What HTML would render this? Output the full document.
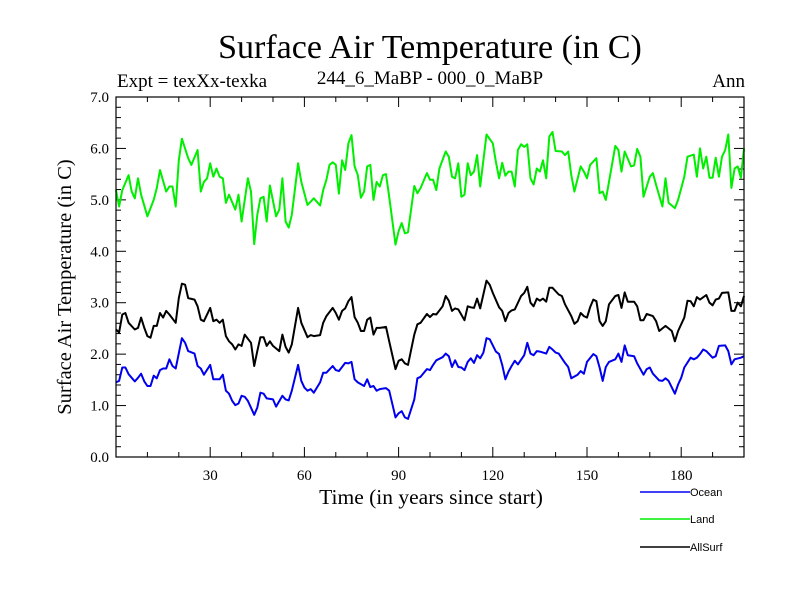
<!DOCTYPE html>
<html><head><meta charset="utf-8"><style>
body{margin:0;background:#fff;width:800px;height:600px;overflow:hidden}
svg{display:block}
.s{font-family:"Liberation Serif",serif}
</style></head><body>
<svg id="chart" width="800" height="600" xmlns="http://www.w3.org/2000/svg">
<text class="s" x="430" y="58" font-size="34" text-anchor="middle">Surface Air Temperature (in C)</text>
<text class="s" x="117" y="87" font-size="19">Expt = texXx-texka</text>
<text class="s" x="430" y="84" font-size="19" text-anchor="middle">244_6_MaBP - 000_0_MaBP</text>
<text class="s" x="745" y="87" font-size="19" text-anchor="end">Ann</text>
<text class="s" x="0" y="0" font-size="20.5" text-anchor="middle" transform="translate(71,287) rotate(-90)">Surface Air Temperature (in C)</text>
<text class="s" x="431" y="504" font-size="21.5" text-anchor="middle">Time (in years since start)</text>
<g id="ticks"></g>
<g id="series"></g>
<rect x="116" y="97" width="628" height="360" fill="none" stroke="#000" stroke-width="1.2"/>
<g id="legend"></g>
</svg>
<script>
const yTicks=[0,1,2,3,4,5,6,7];
const yTickLabels=["0.0","1.0","2.0","3.0","4.0","5.0","6.0","7.0"];
const xTicks=[30,60,90,120,150,180];
const landYears=[0,1,2,4,5,6,7,8,10,12,13,14,16,17,18,19,20,21,23,24,26,27,28,29,30,31,32,33,34,35,36,38,39,40,42,43,44,45,46,47,48,49,51,52,53,54,55,56,58,59,61,63,65,66,67,68,69,70,71,72,73,74,75,76,77,78,79,80,81,82,83,84,85,86,87,89,90,91,92,93,95,96,97,99,100,101,102,103,105,106,107,108,109,110,111,112,113,114,115,116,118,120,121,122,123,124,125,126,127,128,129,130,131,132,133,134,135,136,137,138,139,140,142,143,144,145,146,148,149,150,151,153,154,155,156,159,160,161,162,164,165,166,167,168,170,171,172,174,175,176,178,179,181,182,184,185,186,187,188,189,190,191,192,193,194,195,196,197,198,199,200];
const landVals=[5.19,4.87,5.19,5.48,5.16,5.03,5.42,5.10,4.68,5.0,5.23,5.58,5.16,5.26,5.26,4.87,5.77,6.19,5.81,5.68,5.97,5.16,5.35,5.42,5.71,5.45,5.61,5.45,5.42,4.94,5.10,4.81,5.10,4.58,5.42,5.16,4.14,4.71,5.03,5.06,4.58,5.28,4.68,4.81,5.42,4.58,4.46,4.71,5.71,5.35,4.90,5.03,4.89,5.19,5.39,5.68,5.73,5.68,5.12,5.77,5.58,6.10,6.26,5.65,5.48,5.04,5.16,5.65,5.68,5.0,5.35,5.26,5.48,5.50,5.06,4.13,4.39,4.55,4.35,4.37,5.27,5.13,5.23,5.52,5.39,5.39,5.19,5.61,5.94,5.84,5.45,5.42,5.71,5.06,5.10,5.71,5.48,5.55,5.87,5.26,6.27,6.10,5.74,5.42,5.72,5.47,5.55,5.55,5.26,5.97,6.08,6.03,6.08,5.42,5.30,5.61,5.55,5.77,5.42,6.23,6.32,5.95,5.94,5.87,5.94,5.48,5.16,5.65,5.55,5.42,5.68,5.81,5.13,5.16,5.0,6.05,5.97,5.55,5.94,5.65,5.67,5.99,5.84,5.06,5.45,5.52,5.29,4.87,5.42,4.94,4.84,5.0,5.45,5.84,5.88,5.45,6.0,5.61,5.84,5.43,5.43,5.82,5.45,5.84,5.97,6.27,5.23,5.61,5.65,5.43,6.0];
const allYears=[0,1,2,3,4,6,7,8,9,10,11,12,13,14,15,16,17,19,20,21,22,23,25,26,27,28,30,31,32,33,34,35,36,37,38,39,40,41,43,44,45,46,47,48,49,50,52,53,54,55,56,58,59,61,62,63,65,66,67,69,70,71,72,73,74,75,76,77,78,79,80,81,82,83,84,86,87,89,90,91,92,93,95,96,97,99,100,101,102,104,105,106,107,108,109,111,112,113,114,115,116,118,119,120,122,123,124,125,126,127,129,130,131,132,133,134,135,136,137,138,139,141,142,143,145,146,147,148,149,150,151,152,153,154,155,156,157,159,160,161,162,163,165,166,167,168,169,171,172,173,175,176,177,178,179,181,182,183,184,185,186,188,189,190,191,192,193,195,196,197,198,199,200];
const allVals=[2.48,2.42,2.77,2.80,2.61,2.48,2.51,2.71,2.51,2.35,2.32,2.55,2.55,2.80,2.71,2.84,2.77,2.61,3.09,3.37,3.35,3.09,3.06,2.93,2.67,2.64,2.90,2.64,2.67,2.61,2.67,2.35,2.25,2.19,2.09,2.19,2.16,2.38,2.22,1.77,2.06,2.33,2.33,2.16,2.25,2.16,2.06,2.38,2.14,2.03,2.19,2.90,2.61,2.33,2.37,2.35,2.37,2.61,2.74,2.90,2.80,2.67,2.84,2.89,3.03,3.11,2.72,2.61,2.45,2.45,2.67,2.71,2.38,2.51,2.51,2.53,2.25,1.71,1.87,1.90,1.82,1.79,2.38,2.58,2.61,2.78,2.72,2.78,2.77,2.93,3.13,3.04,2.84,2.89,2.87,2.66,2.93,2.91,2.90,3.08,2.89,3.43,3.35,3.19,2.91,2.84,2.64,2.80,2.85,2.87,3.13,3.19,3.31,3.00,2.93,3.08,3.04,3.08,3.02,3.29,3.29,3.16,3.13,2.97,2.74,2.59,2.64,2.80,2.74,2.71,2.91,3.06,3.03,2.64,2.55,2.64,2.97,3.13,3.15,2.90,3.20,3.02,3.02,2.93,2.66,2.66,2.78,2.74,2.64,2.45,2.55,2.50,2.45,2.25,2.45,2.71,3.04,3.03,2.93,3.11,3.06,3.15,3.00,2.95,3.06,3.08,3.19,3.20,2.84,2.84,3.00,2.93,3.13];
const oceanYears=[0,1,2,3,4,6,7,8,9,10,11,12,13,14,15,16,17,18,19,21,22,23,25,26,27,28,30,31,32,33,34,35,36,37,38,39,40,41,42,44,45,46,47,48,50,51,53,54,55,56,58,59,60,61,62,63,65,66,67,69,70,71,73,74,75,76,77,79,80,81,82,83,84,86,87,89,90,91,92,93,95,96,97,99,100,101,102,104,105,106,107,108,109,110,111,112,113,114,115,116,117,118,119,121,122,123,124,125,126,127,128,130,131,132,133,134,135,137,138,139,140,141,143,144,145,147,148,149,150,152,153,154,155,156,157,159,160,161,162,163,165,166,168,169,170,171,173,174,175,176,178,179,180,181,183,184,185,186,187,188,190,191,192,194,195,196,197,199,200];
const oceanVals=[1.45,1.48,1.74,1.74,1.61,1.47,1.54,1.62,1.47,1.38,1.38,1.58,1.53,1.69,1.72,1.72,1.90,1.77,1.72,2.31,2.22,2.06,2.01,1.77,1.72,1.60,1.79,1.51,1.51,1.51,1.60,1.29,1.23,1.09,1.01,1.04,1.19,1.17,1.09,0.82,0.96,1.25,1.23,1.14,1.12,0.98,1.19,1.12,1.10,1.29,1.79,1.48,1.35,1.29,1.32,1.25,1.45,1.64,1.64,1.77,1.69,1.67,1.83,1.82,1.85,1.51,1.45,1.38,1.51,1.36,1.38,1.29,1.32,1.34,1.29,0.77,0.85,0.89,0.77,0.74,1.12,1.53,1.56,1.71,1.69,1.79,1.88,1.94,2.01,1.96,1.75,1.88,1.75,1.74,1.69,1.85,1.92,1.83,1.98,1.92,2.03,2.31,2.29,2.05,2.0,1.79,1.51,1.66,1.77,1.87,1.80,1.98,2.22,2.01,1.98,2.06,2.05,2.01,2.14,2.09,2.03,2.01,1.83,1.75,1.53,1.60,1.67,1.62,1.85,2.0,1.96,1.74,1.48,1.75,1.85,1.90,2.01,1.85,2.17,1.98,1.96,1.82,1.60,1.71,1.74,1.62,1.49,1.48,1.53,1.48,1.23,1.41,1.54,1.74,1.93,1.90,1.93,2.0,2.09,2.06,1.93,1.96,2.16,2.17,2.06,1.80,1.90,1.93,1.96];

const X0=116,X1=744,Y0=457,Y1=97,XMAX=200,YMAX=7;
const xS=v=>X0+(X1-X0)*v/XMAX;
const yS=v=>Y0-(Y0-Y1)*v/YMAX;
const NS='http://www.w3.org/2000/svg';
function mk(tag,attrs,parent){const e=document.createElementNS(NS,tag);for(const k in attrs)e.setAttribute(k,attrs[k]);parent.appendChild(e);return e;}
const tg=document.getElementById('ticks');
for(let v=0;v<=YMAX+1e-9;v+=0.2){
  const major=Math.abs(v-Math.round(v))<1e-6;const L=major?10:5;const y=yS(v);
  const a=mk('line',{x1:X0,x2:X0+L,y1:y,y2:y,stroke:'#000','stroke-width':1},tg);
  
  
  const b=mk('line',{x1:X1,x2:X1-L,y1:y,y2:y,stroke:'#000','stroke-width':1},tg);
  
  
}
yTicks.forEach((v,i)=>{
  const t=mk('text',{x:X0-7,y:yS(v)+5,'font-size':15,'text-anchor':'end','font-family':'Liberation Serif, serif'},tg);
  t.textContent=yTickLabels[i];
  
  
});
for(let v=10;v<XMAX;v+=10){
  const major=v%30===0;const L=major?10:5;const x=xS(v);
  const a=mk('line',{x1:x,x2:x,y1:Y0,y2:Y0-L,stroke:'#000','stroke-width':1},tg);
  
  
  const b=mk('line',{x1:x,x2:x,y1:Y1,y2:Y1+L,stroke:'#000','stroke-width':1},tg);
  
  
}
xTicks.forEach(v=>{
  const t=mk('text',{x:xS(v),y:Y0+23,'font-size':15,'text-anchor':'middle','font-family':'Liberation Serif, serif'},tg);
  t.textContent=String(v);
  
  
});
const sg=document.getElementById('series');
function line(xs,vs,color,name){
  const d=xs.map((x,i)=>(i?'L':'M')+xS(x).toFixed(1)+','+yS(vs[i]).toFixed(1)).join('');
  const p=mk('path',{d:d,fill:'none',stroke:color,'stroke-width':2,'stroke-linejoin':'round'},sg);
  
  
}
line(landYears,landVals,'#00ee00','land-line');
line(allYears,allVals,'#000000','allsurf-line');
line(oceanYears,oceanVals,'#0000ee','ocean-line');
const lg=document.getElementById('legend');
const leg=[['Ocean','#0000ee',492],['Land','#00ee00',519],['AllSurf','#000',547]];
leg.forEach(([n,c,y])=>{
  const l=mk('line',{x1:640,x2:690,y1:y,y2:y,stroke:c,'stroke-width':1.5},lg);
  
  
  const t=mk('text',{x:690,y:y+4,'font-size':11,'font-family':'Liberation Sans, sans-serif'},lg);
  t.textContent=n;
  
  
});
</script>
</body></html>
